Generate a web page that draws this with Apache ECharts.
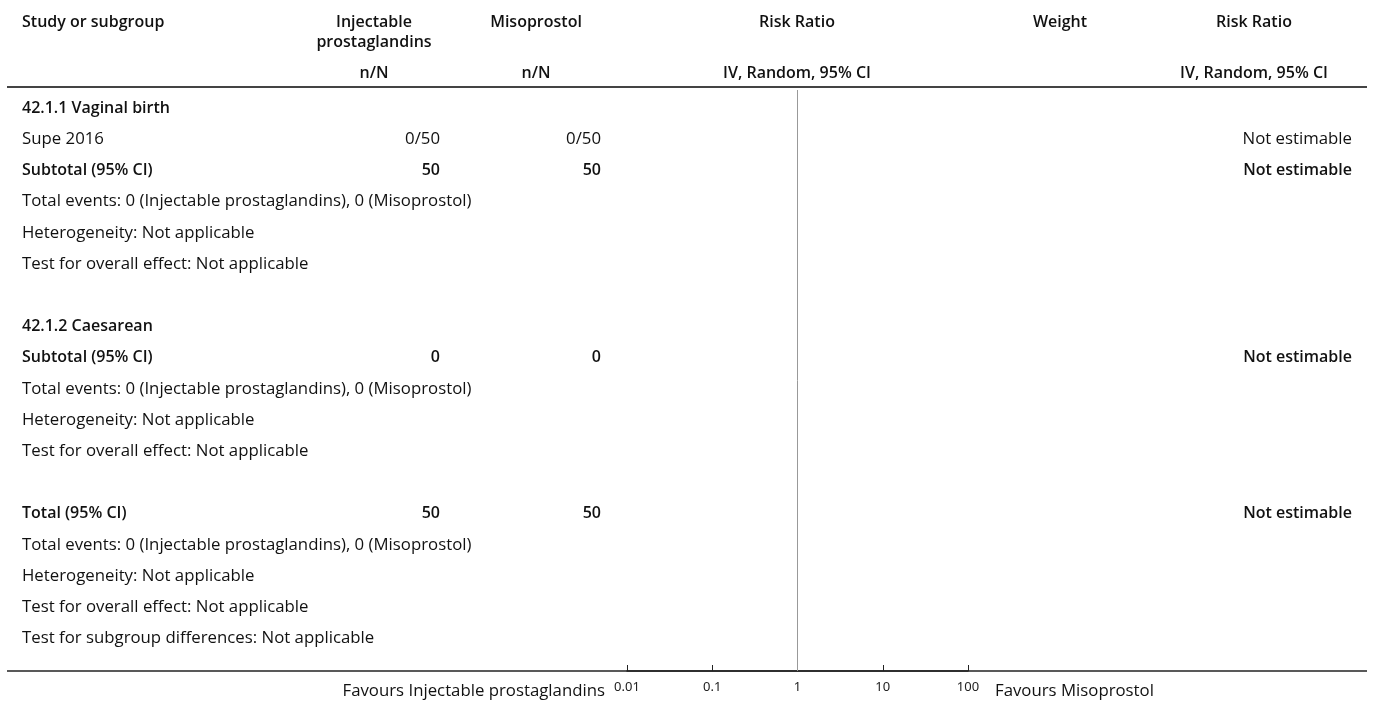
<!DOCTYPE html>
<html>
<head>
<meta charset="utf-8">
<script src="https://cdn.jsdelivr.net/npm/echarts@6/dist/echarts.min.js"></script>
<style>
html,body{margin:0;padding:0;background:#fff;}
#chart{width:1375px;height:702px;}
</style>
</head>
<body>
<div id="chart"></div>
<script>
// ---- data ----
const rowLabels = [
  '42.1.1 Vaginal birth',
  'Supe 2016',
  'Subtotal (95% CI)',
  'Total events: 0 (Injectable prostaglandins), 0 (Misoprostol)',
  'Heterogeneity: Not applicable',
  'Test for overall effect: Not applicable',
  '',
  '42.1.2 Caesarean',
  'Subtotal (95% CI)',
  'Total events: 0 (Injectable prostaglandins), 0 (Misoprostol)',
  'Heterogeneity: Not applicable',
  'Test for overall effect: Not applicable',
  '',
  'Total (95% CI)',
  'Total events: 0 (Injectable prostaglandins), 0 (Misoprostol)',
  'Heterogeneity: Not applicable',
  'Test for overall effect: Not applicable',
  'Test for subgroup differences: Not applicable'
];
const rowBold = [1,0,1,0,0,0,0,1,1,0,0,0,0,1,0,0,0,0];
const injectable = ['', '0/50', '50', '', '', '', '', '', '0', '', '', '', '', '50', '', '', '', ''];
const misoprostol = ['', '0/50', '50', '', '', '', '', '', '0', '', '', '', '', '50', '', '', '', ''];
const weight = ['', '', '', '', '', '', '', '', '', '', '', '', '', '', '', '', '', ''];
const riskRatioText = ['', 'Not estimable', 'Not estimable', '', '', '', '', '', 'Not estimable', '', '', '', '', 'Not estimable', '', '', '', ''];
const nullEffect = 1;
const axisTicks = [0.01, 0.1, 1, 10, 100];
const tickLabels = ['0.01', '0.1', '1', '10', '100'];
const favoursLeft = 'Favours Injectable prostaglandins';
const favoursRight = 'Favours Misoprostol';

// ---- layout ----
const FONT = '"Open Sans", Lato, sans-serif';
const FS = 16.8;
const FSB = 16;
const rowTop = 108, rowH = 31.2;
const col = {label: 22, inj: 440, miso: 601, weight: 1060, rr: 1352};
const txtColor = '#111';

const graphics = [];
function txt(s, x, y, align, bold, size, color) {
  graphics.push({
    type: 'text', silent: true,
    style: {
      text: s, x: x, y: y, textAlign: align, textVerticalAlign: 'middle',
      font: (bold ? '600 ' : '') + (size || (bold ? FSB : FS)) + 'px ' + FONT,
      fill: color || txtColor
    }
  });
}
// headers
txt('Study or subgroup', 22, 22, 'left', true);
txt('Injectable', 374, 22, 'center', true);
txt('prostaglandins', 374, 42, 'center', true);
txt('Misoprostol', 536, 22, 'center', true);
txt('Risk Ratio', 797, 22, 'center', true);
txt('Weight', 1060, 22, 'center', true);
txt('Risk Ratio', 1254, 22, 'center', true);
txt('n/N', 374, 73, 'center', true);
txt('n/N', 536, 73, 'center', true);
txt('IV, Random, 95% CI', 797, 73, 'center', true);
txt('IV, Random, 95% CI', 1254, 73, 'center', true);
// header rule
graphics.push({type: 'line', silent: true, shape: {x1: 7, y1: 87, x2: 1367, y2: 87}, style: {stroke: '#444', lineWidth: 2}});
// bottom rule
graphics.push({type: 'line', silent: true, shape: {x1: 7, y1: 671, x2: 1367, y2: 671}, style: {stroke: '#222', lineWidth: 1.5}});

rowLabels.forEach(function (s, i) {
  const y = rowTop + i * rowH;
  const b = !!rowBold[i];
  if (s) txt(s, col.label, y, 'left', b);
  if (injectable[i]) txt(injectable[i], col.inj, y, 'right', b);
  if (misoprostol[i]) txt(misoprostol[i], col.miso, y, 'right', b);
  if (weight[i]) txt(weight[i], col.weight, y, 'center', b);
  if (riskRatioText[i]) txt(riskRatioText[i], col.rr, y, 'right', b);
});
txt(favoursLeft, 605, 691, 'right', false);
txt(favoursRight, 995, 691, 'left', false);

const chart = echarts.init(document.getElementById('chart'));
chart.setOption({
  animation: false,
  backgroundColor: '#fff',
  grid: {left: 627, top: 90, width: 341, height: 581},
  xAxis: {
    type: 'log', logBase: 10, min: axisTicks[0], max: axisTicks[axisTicks.length - 1],
    axisLine: {show: true, lineStyle: {color: '#222', width: 1.5}},
    axisTick: {show: true, inside: true, length: 6, lineStyle: {color: '#222'}},
    splitLine: {show: false},
    axisLabel: {
      fontSize: 13, color: '#222', margin: 10, fontFamily: '"Noto Sans", sans-serif',
      formatter: function (v) {
        const k = axisTicks.findIndex(function (t) { return Math.abs(Math.log10(t) - Math.log10(v)) < 1e-6; });
        return k >= 0 ? tickLabels[k] : '';
      }
    }
  },
  yAxis: {type: 'value', min: 0, max: 1, show: false},
  series: [{
    type: 'line', silent: true, symbol: 'none',
    data: [[nullEffect, 0], [nullEffect, 1]],
    lineStyle: {color: '#999', width: 1}
  }],
  graphic: graphics
});
</script>
</body>
</html>
